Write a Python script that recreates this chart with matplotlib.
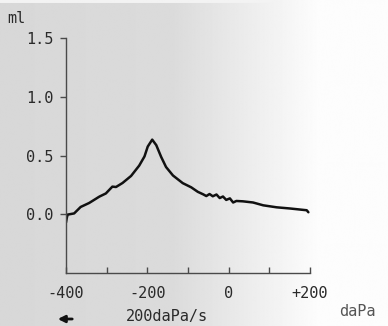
import numpy as np
import matplotlib
matplotlib.use("Agg")
import matplotlib.pyplot as plt
from matplotlib.patches import FancyArrowPatch

# Tympanogram trace: pressure (daPa) vs. compliance (ml)
pressure = [-400, -398, -396, -380, -364, -343, -318, -302, -286, -277,
            -261, -240, -220, -207, -199, -188, -178, -166, -154, -137,
            -113, -92, -76, -63, -55, -47, -39, -30, -22, -14,
            -6, 3, 11, 19, 35, 60, 85, 118, 151, 192, 196]
compliance = [-0.07, -0.03, -0.003, 0.007, 0.062, 0.096, 0.150, 0.177, 0.235, 0.232,
              0.266, 0.326, 0.414, 0.492, 0.576, 0.635, 0.588, 0.488, 0.402, 0.330,
              0.265, 0.229, 0.191, 0.170, 0.155, 0.172, 0.153, 0.168, 0.138, 0.151,
              0.122, 0.135, 0.100, 0.113, 0.110, 0.100, 0.076, 0.059, 0.049, 0.034, 0.017]

x_ticks = [-400, -300, -200, -100, 0, 100, 200]
x_tick_labels = ["-400", "", "-200", "", "0", "", "+200"]
y_ticks = [0.0, 0.5, 1.0, 1.5]
y_tick_labels = ["0.0", "0.5", "1.0", "1.5"]

W, H = 388, 326
fig = plt.figure(figsize=(W / 100, H / 100), dpi=100)

# paper background: grey on the left, fading to white on the right
bg = fig.add_axes([0, 0, 1, 1], zorder=-1)
xs = np.linspace(0, 1, 400)
prof = np.where(xs < 0.45, 0.845 + 0.03 * xs,
                np.clip(0.86 + (xs - 0.45) / 0.4 * 0.14, 0, 0.99))
img = np.tile(prof, (330, 1))
img[:3, :] = np.maximum(img[:3, :], 0.95)
bg.imshow(img, cmap="gray", vmin=0, vmax=1, aspect="auto",
          extent=[0, 1, 0, 1], origin="upper")
bg.set_axis_off()

mono = "DejaVu Sans Mono"
ax_col = "#4a4a4a"
txt_col = "#2a2a2a"
ax = fig.add_axes([66 / W, 1 - 273 / H, (310 - 66) / W, (273 - 38) / H])
ax.set_facecolor("none")
ax.plot(pressure, compliance, color="#111111", lw=1.8,
        solid_joinstyle="round", solid_capstyle="round")

ax.set_xlim(-400, 200)
ax.set_ylim(-0.5, 1.5)
for s in ("top", "right"):
    ax.spines[s].set_visible(False)
for s in ("left", "bottom"):
    ax.spines[s].set_color(ax_col)
    ax.spines[s].set_linewidth(1.0)

ax.set_xticks(x_ticks)
ax.set_xticklabels(x_tick_labels, fontfamily=mono, fontsize=11, color=txt_col)
ax.set_yticks(y_ticks)
ax.set_yticklabels(y_tick_labels, fontfamily=mono, fontsize=11, color=txt_col)
ax.tick_params(axis="x", direction="in", length=4, width=1.0, color=ax_col, pad=9)
ax.tick_params(axis="y", direction="out", length=4, width=1.0, color=ax_col, pad=5)

fig.text(7 / W, 1 - 23 / H, "ml", fontfamily=mono, fontsize=11, color=txt_col,
         ha="left", va="baseline")
fig.text(357 / W, 1 - 312 / H, "daPa", fontfamily=mono, fontsize=11, color="#555555",
         ha="center", va="center")
fig.text(167 / W, 1 - 317 / H, "200daPa/s", fontfamily=mono, fontsize=11, color=txt_col,
         ha="center", va="center")
fig.add_artist(FancyArrowPatch(
    (75 / W, 1 - 319 / H), (55 / W, 1 - 319 / H), transform=fig.transFigure,
    arrowstyle="-|>", mutation_scale=10, lw=2.0, color="#111111"))

fig.savefig("out.png", dpi=100)
